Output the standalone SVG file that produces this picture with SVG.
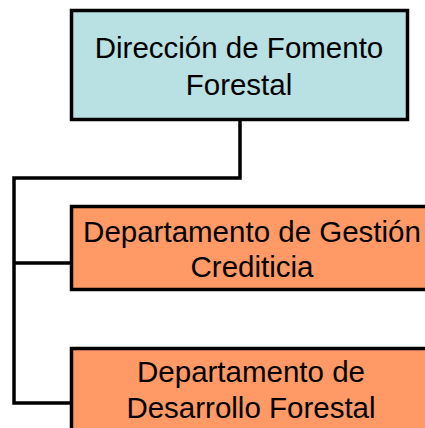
<svg xmlns="http://www.w3.org/2000/svg" width="425" height="428" viewBox="0 0 425 428">
<style>
.box{stroke:#000;stroke-width:3.5}
.top{fill:#B9E0E3}
.dept{fill:#FF9966}
.lbl{font-family:"Liberation Sans",Arial,sans-serif;font-size:29.5px;fill:#000;text-anchor:middle}
.conn{fill:none;stroke:#000;stroke-width:3.5}
</style>
<rect width="425" height="428" fill="#fff"/>
<g id="connectors">
<path class="conn" d="M240,120 V178 H14 V403 H71"/>
<path class="conn" d="M14,263 H71"/>
</g>
<g id="direccion">
<rect class="box top" x="71.5" y="10.5" width="336" height="109"/>
<text class="lbl" x="239" y="58">Dirección de Fomento</text>
<text class="lbl" x="239" y="95">Forestal</text>
</g>
<g id="gestion">
<rect class="box dept" x="71.5" y="206.5" width="370" height="83"/>
<text class="lbl" x="252" y="242">Departamento de Gestión</text>
<text class="lbl" x="252" y="277">Crediticia</text>
</g>
<g id="desarrollo">
<rect class="box dept" x="71.5" y="348.5" width="370" height="100"/>
<text class="lbl" x="251" y="382">Departamento de</text>
<text class="lbl" x="251" y="418">Desarrollo Forestal</text>
</g>
</svg>
